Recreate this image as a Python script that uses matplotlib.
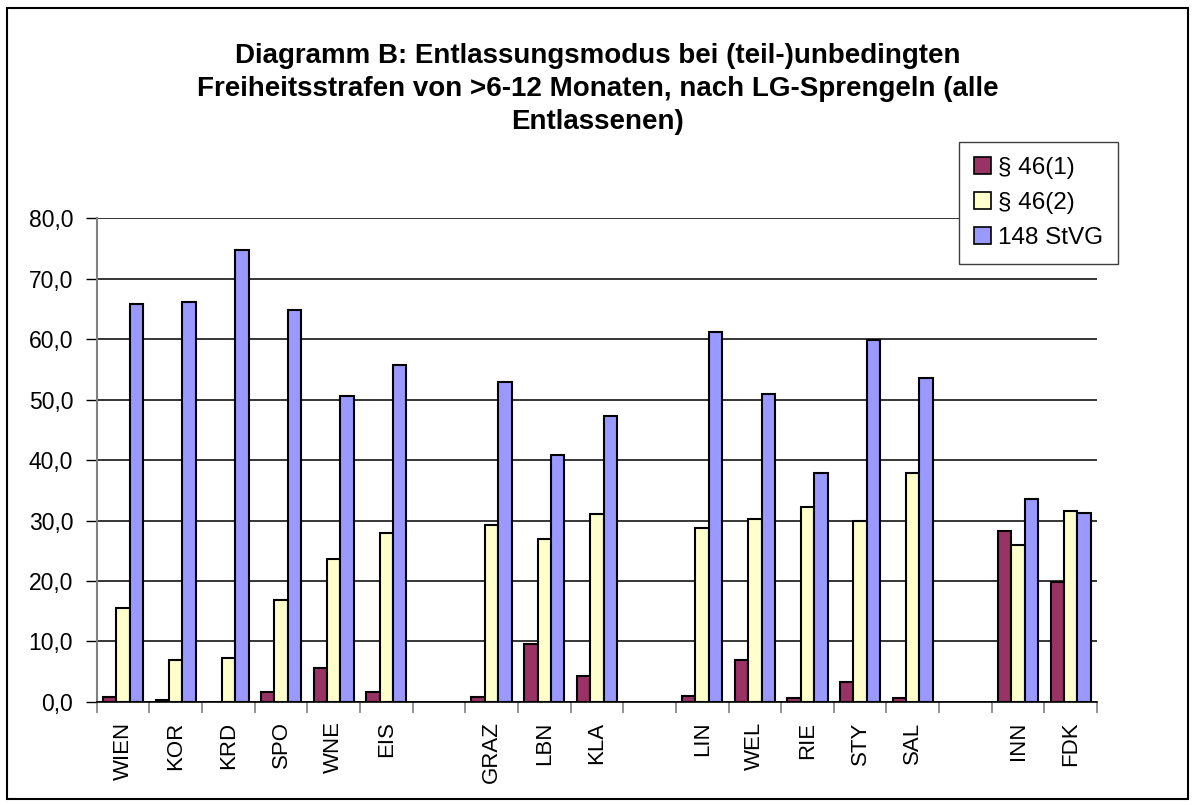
import numpy as np
import matplotlib.pyplot as plt
from matplotlib.patches import Patch, Rectangle

plt.rcParams['font.family'] = ['Liberation Sans', 'DejaVu Sans']

# Categories (empty strings are the gaps between the groups of courts)
categories = ['WIEN', 'KOR', 'KRD', 'SPO', 'WNE', 'EIS', '',
              'GRAZ', 'LBN', 'KLA', '',
              'LIN', 'WEL', 'RIE', 'STY', 'SAL', '',
              'INN', 'FDK']
nan = np.nan
par46_1 = [0.8, 0.3, 0.0, 1.7, 5.6, 1.7, nan,
           0.8, 9.6, 4.3, nan,
           1.0, 7.0, 0.7, 3.3, 0.7, nan,
           28.2, 19.8]
par46_2 = [15.5, 7.0, 7.3, 16.8, 23.7, 28.0, nan,
           29.3, 27.0, 31.0, nan,
           28.7, 30.3, 32.3, 30.0, 37.9, nan,
           26.0, 31.6]
stvg148 = [65.8, 66.1, 74.7, 64.8, 50.6, 55.8, nan,
           52.9, 40.9, 47.3, nan,
           61.2, 50.9, 37.9, 59.9, 53.5, nan,
           33.6, 31.3]
series_names = ['§ 46(1)', '§ 46(2)', '148 StVG']
colors = ['#993366', '#FFFFCC', '#9999FF']

fig = plt.figure(figsize=(11.95, 8.05), dpi=100)
ax = fig.add_axes([0.081, 0.128, 0.837, 0.601])

x = np.arange(len(categories))
w = 0.255
for i, vals in enumerate([par46_1, par46_2, stvg148]):
    ax.bar(x + (i - 1) * w, vals, width=w, color=colors[i],
           edgecolor='black', linewidth=1.5, zorder=3)

ax.set_xlim(-0.5, len(categories) - 0.5)
ax.set_ylim(0, 80)
ax.set_yticks(np.arange(0, 81, 10))
ax.set_yticklabels([f'{v:.1f}'.replace('.', ',') for v in np.arange(0, 81, 10)],
                   fontsize=16.5)
ax.yaxis.grid(True, color='black', linewidth=1.1, zorder=0)

ax.set_xticks(x)
ax.set_xticklabels(categories, rotation=90, fontsize=16)
ax.set_xticks(np.arange(-0.5, len(categories)), minor=True)
ax.tick_params(axis='x', which='major', length=0, pad=14)
ax.tick_params(axis='x', which='minor', length=8, color='#808080', width=1.2)
ax.tick_params(axis='y', length=8, color='black', width=1, pad=9)

for s in ['top', 'right']:
    ax.spines[s].set_visible(False)
ax.spines['left'].set_color('#808080')
ax.spines['left'].set_linewidth(1.5)
ax.spines['bottom'].set_color('black')
ax.spines['bottom'].set_linewidth(1.2)

fig.text(0.5, 0.947,
         'Diagramm B: Entlassungsmodus bei (teil-)unbedingten\n'
         'Freiheitsstrafen von >6-12 Monaten, nach LG-Sprengeln (alle\n'
         'Entlassenen)',
         ha='center', va='top', fontsize=20, fontweight='bold', linespacing=1.36)

handles = [Patch(facecolor=c, edgecolor='black', linewidth=1.2) for c in colors]
leg = fig.legend(handles, series_names, loc='upper left',
                 bbox_to_anchor=(0.8025, 0.8236), fontsize=17.5,
                 frameon=True, fancybox=False, framealpha=1,
                 handlelength=0.7, handleheight=0.7, handletextpad=0.3,
                 labelspacing=0.55, borderpad=0.6, borderaxespad=0)
leg.get_frame().set_edgecolor('#404040')
leg.get_frame().set_linewidth(1.0)

fig.patches.append(Rectangle((7 / 1195, 6 / 805), 1181 / 1195, 791 / 805,
                             transform=fig.transFigure, fill=False,
                             edgecolor='black', linewidth=1.5))

fig.savefig('out.png', dpi=100)
